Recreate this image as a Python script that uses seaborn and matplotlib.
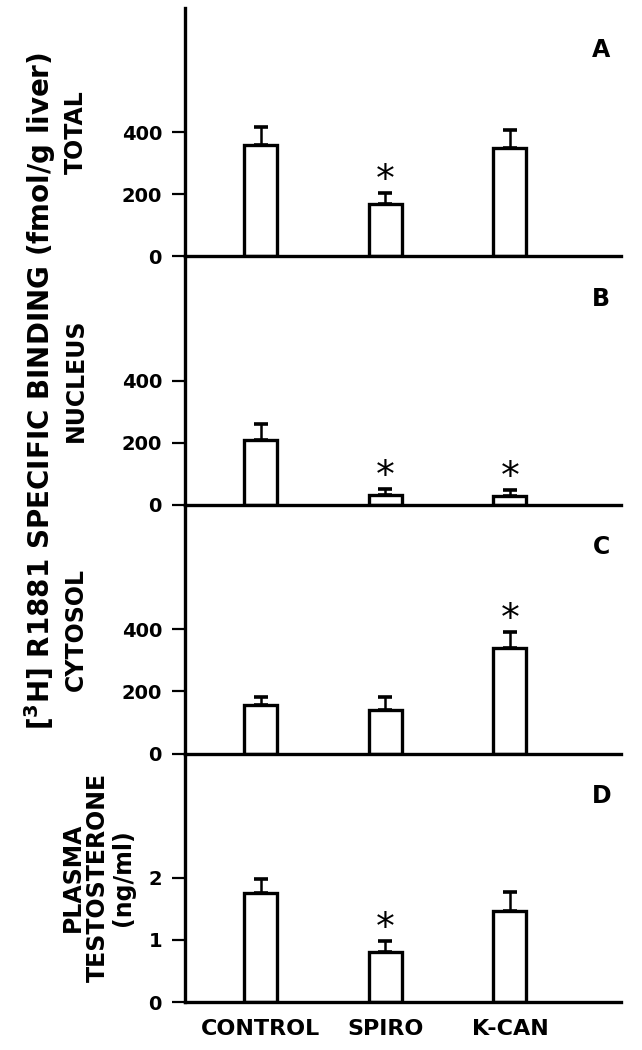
import matplotlib

matplotlib.use("Agg")
import matplotlib.pyplot as plt
import numpy as np
import pandas as pd
import seaborn as sns

# Werte (Mittelwert + SEM, nur nach oben)
groups = ["CONTROL", "SPIRO", "K-CAN"]

total_mean = [360, 168, 348]
total_sem = [58, 35, 58]
nucleus_mean = [210, 32, 29]
nucleus_sem = [51, 20, 19]
cytosol_mean = [155, 140, 339]
cytosol_sem = [26, 41, 51]
testo_mean = [1.76, 0.81, 1.47]
testo_sem = [0.22, 0.17, 0.30]

# signifikant (*) je Panel
total_sig = ["SPIRO"]
nucleus_sig = ["SPIRO", "K-CAN"]
cytosol_sig = ["K-CAN"]
testo_sig = ["SPIRO"]

panel_letters = ["A", "B", "C", "D"]
panel_titles = ["TOTAL", "NUCLEUS", "CYTOSOL", "PLASMA\nTESTOSTERONE\n(ng/ml)"]
y_ticks = [[0, 200, 400], [0, 200, 400], [0, 200, 400], [0, 1, 2]]
y_max = [800, 800, 800, 4]

big_label = "[$^3$H] R1881 SPECIFIC BINDING (fmol/g liver)"

sns.set_style("ticks")
plt.rcParams["font.family"] = ["DejaVu Sans"]
plt.rcParams["mathtext.fontset"] = "dejavusans"
plt.rcParams["mathtext.default"] = "bf"
for key in ("text.color", "axes.labelcolor", "xtick.color", "ytick.color",
            "axes.edgecolor"):
    plt.rcParams[key] = "black"

LW = 2.4

panels = [
    (total_mean, total_sem, total_sig),
    (nucleus_mean, nucleus_sem, nucleus_sig),
    (cytosol_mean, cytosol_sem, cytosol_sig),
    (testo_mean, testo_sem, testo_sig),
]

fig, axes = plt.subplots(4, 1, figsize=(6.42, 10.5), dpi=100, sharex=True)
fig.subplots_adjust(left=0.288, right=0.967, bottom=0.0457, top=0.9924, hspace=0)

for i, (ax, (mean, sem, sig)) in enumerate(zip(axes, panels)):
    ax.patch.set_visible(False)  # sonst verdeckt das untere Panel die Nulllinie
    df = pd.DataFrame({"group": groups, "value": mean, "sem": sem})
    sns.barplot(data=df, x="group", y="value", ax=ax, color="white",
                edgecolor="black", linewidth=LW, width=0.265, errorbar=None,
                saturation=1)
    pos = np.arange(len(groups))
    ax.errorbar(pos, df["value"], yerr=[np.zeros(len(groups)), df["sem"]],
                fmt="none", ecolor="black", elinewidth=1.8, capsize=4.8,
                capthick=2.6, zorder=3)
    # Sternchen über den Fehlerbalken
    for g in sig:
        k = groups.index(g)
        ax.annotate("*", xy=(k, mean[k] + sem[k]), xytext=(0, 1.5),
                    textcoords="offset points", ha="center", va="baseline",
                    fontsize=27)

    ax.set_ylim(0, y_max[i])
    ax.set_yticks(y_ticks[i])
    ax.set_xlim(-0.61, 2.89)
    ax.set_xlabel("")
    ax.set_ylabel("")
    sns.despine(ax=ax)
    ax.spines["left"].set_linewidth(LW)
    ax.spines["bottom"].set_linewidth(LW)
    ax.tick_params(axis="y", direction="out", length=9.5, width=1.6, pad=7,
                   labelsize=14)
    ax.tick_params(axis="x", length=0, pad=12, labelsize=16)
    for lab in ax.get_xticklabels() + ax.get_yticklabels():
        lab.set_fontweight("bold")
    ax.text(0.955, 0.83, panel_letters[i], transform=ax.transAxes,
            ha="center", va="center", fontsize=17, fontweight="bold")
    tx = -0.2 if i == 3 else -0.25
    ax.text(tx, 0.5, panel_titles[i], transform=ax.transAxes, rotation=90,
            ha="center", va="center", fontsize=17, fontweight="bold",
            linespacing=1.05)

fig.text(40 / 642, 1 - 391 / 1050, big_label, rotation=90, ha="center",
         va="center", fontsize=20, fontweight="bold")

fig.savefig("out.png", dpi=100)
